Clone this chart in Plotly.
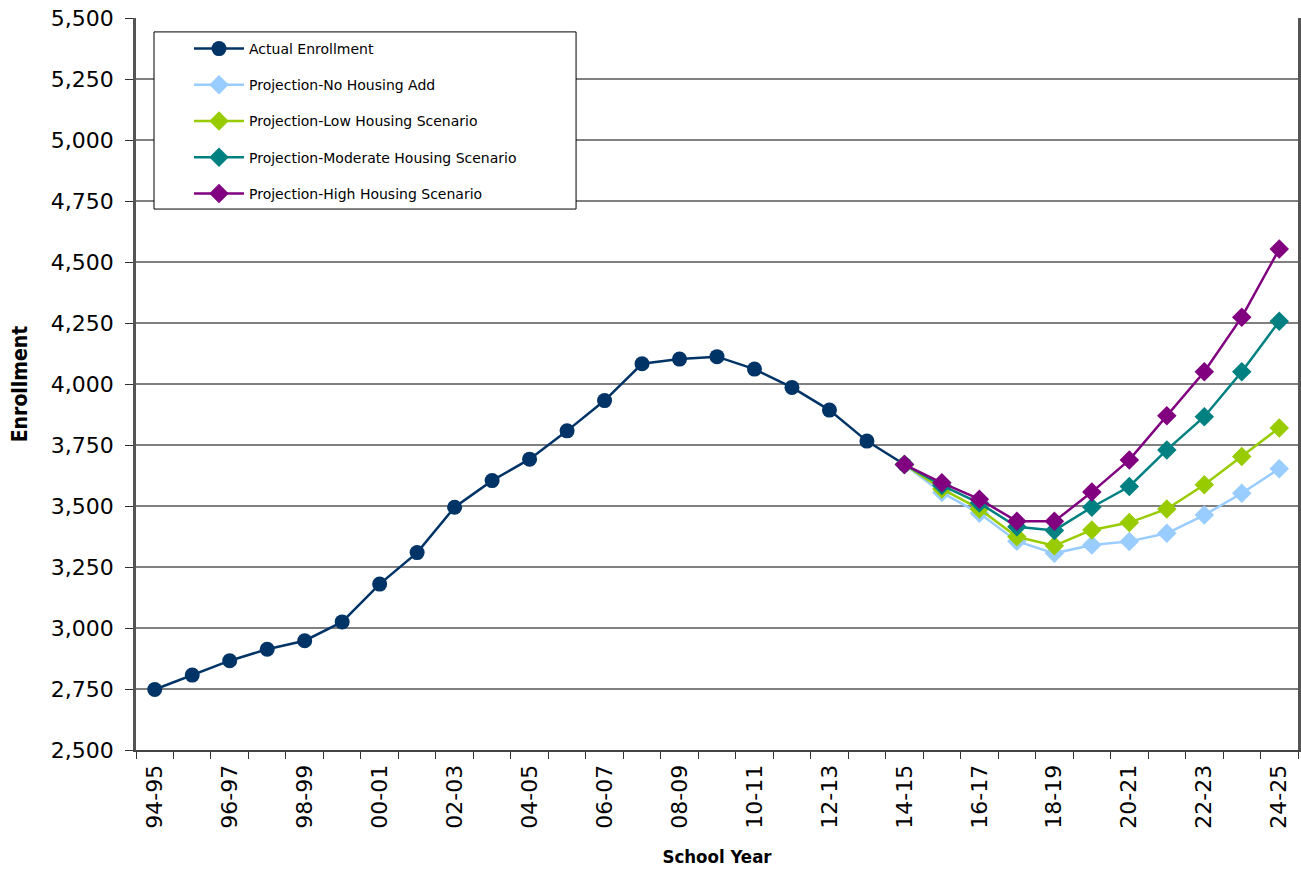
import plotly.graph_objects as go

years = ["94-95", "95-96", "96-97", "97-98", "98-99", "99-00", "00-01", "01-02", "02-03",
         "03-04", "04-05", "05-06", "06-07", "07-08", "08-09", "09-10", "10-11", "11-12",
         "12-13", "13-14", "14-15", "15-16", "16-17", "17-18", "18-19", "19-20", "20-21",
         "21-22", "22-23", "23-24", "24-25"]

actual_years = years[:21]
actual = [2748, 2807, 2866, 2913, 2948, 3025, 3180, 3309, 3495, 3604, 3692, 3808, 3932,
          4083, 4102, 4112, 4061, 3986, 3893, 3766, 3670]

proj_years = years[20:]
no_housing = [3670, 3555, 3470, 3356, 3306, 3340, 3355, 3388, 3463, 3552, 3653]
low_housing = [3670, 3570, 3488, 3374, 3337, 3402, 3432, 3488, 3587, 3703, 3820]
moderate_housing = [3670, 3584, 3512, 3415, 3400, 3495, 3580, 3730, 3866, 4050, 4257]
high_housing = [3670, 3595, 3528, 3437, 3437, 3557, 3689, 3870, 4050, 4274, 4553]

tick_labels = [y if i % 2 == 0 else "" for i, y in enumerate(years)]

FONT = "DejaVu Sans"
TITLE_FONT = "DejaVu Sans Condensed, DejaVu Sans, sans-serif"

fig = go.Figure()

fig.add_trace(go.Scatter(
    x=actual_years, y=actual, name="Actual Enrollment", mode="lines+markers",
    line=dict(color="#003366", width=2.5),
    marker=dict(symbol="circle", size=15, color="#003366"),
    legendgroup="a"))

series = [
    ("Projection-No Housing Add", no_housing, "#99CCFF", "b"),
    ("Projection-Low Housing Scenario", low_housing, "#99CC00", "c"),
    ("Projection-Moderate Housing Scenario", moderate_housing, "#008080", "d"),
    ("Projection-High Housing Scenario", high_housing, "#800080", "e"),
]
for name, vals, col, grp in series:
    fig.add_trace(go.Scatter(
        x=proj_years, y=vals, name=name, mode="lines+markers",
        line=dict(color=col, width=2.5),
        marker=dict(symbol="diamond", size=15, color=col),
        legendgroup=grp))

fig.update_layout(
    width=1301, height=871,
    margin=dict(l=136, r=3, t=18, b=121),
    paper_bgcolor="white", plot_bgcolor="white",
    font=dict(family=FONT, color="black"),
    showlegend=True,
    legend=dict(
        x=0.0456, y=0.9795, xanchor="left", yanchor="top",
        bgcolor="rgba(0,0,0,0)", borderwidth=0,
        font=dict(family=FONT, size=14, color="black"),
        tracegroupgap=15, traceorder="grouped", itemwidth=50,
    ),
    shapes=[dict(type="rect", xref="paper", yref="paper",
                 x0=0.0155, x1=0.3787, y0=0.739, y1=0.981,
                 line=dict(color="black", width=1), fillcolor="white", layer="above")],
    xaxis=dict(
        type="category", categoryorder="array", categoryarray=years,
        tickmode="array", tickvals=years, ticktext=tick_labels,
        tickson="boundaries", ticks="outside", ticklen=7, tickcolor="#333",
        tickangle=-90, tickfont=dict(family=FONT, size=22, color="black"),
        ticklabelstandoff=4,
        showgrid=False, showline=True, linecolor="#444", linewidth=2,
        range=[-0.5, 30.5], automargin=False,
        title=dict(text="<b>School Year</b>", font=dict(family=TITLE_FONT, size=18.5, color="black"),
                   standoff=22),
    ),
    yaxis=dict(
        range=[2500, 5500], dtick=250, tickformat=",",
        ticks="outside", ticklen=8, tickcolor="#333",
        tickfont=dict(family=FONT, size=22, color="black"),
        ticklabelstandoff=7,
        showgrid=True, gridcolor="#808080", gridwidth=1.5,
        showline=True, linecolor="#555", linewidth=2.5, mirror=True,
        zeroline=False, automargin=False,
        title=dict(text="<b>Enrollment</b>", font=dict(family=TITLE_FONT, size=21, color="black"),
                   standoff=18),
    ),
)

fig.write_html("out.html", config={"displayModeBar": False},
               post_script="document.body.style.margin='0';")
